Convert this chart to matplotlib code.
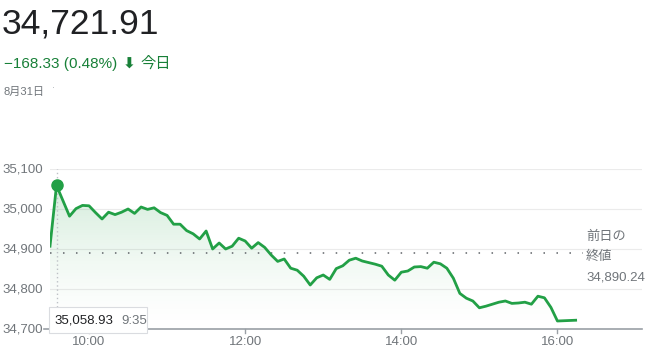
import numpy as np
import matplotlib
matplotlib.use('Agg')
import matplotlib.pyplot as plt

plt.rcParams['font.family'] = ['Liberation Sans', 'Noto Sans CJK JP', 'DejaVu Sans']

# minutos desde las 9:30 y valor del indice
minutos = [0, 5, 15, 20, 25, 30, 35, 40, 45, 50, 55, 60, 65, 70, 75, 80, 85, 90,
           95, 100, 105, 110, 115, 120, 125, 130, 135, 140, 145, 150, 155, 160,
           165, 170, 175, 180, 185, 190, 195, 200, 205, 210, 215, 220, 225, 230,
           235, 240, 245, 250, 255, 260, 265, 270, 275, 280, 285, 290, 295, 300,
           305, 310, 315, 320, 325, 330, 335, 340, 345, 350, 355, 360, 365, 370,
           375, 380, 385, 390, 404]
valores = [34907, 35058.93, 34982, 35001, 35009, 35008, 34991, 34975, 34992,
           34986, 34992, 35000, 34989, 35005, 34999, 35003, 34991, 34984, 34962,
           34962, 34946, 34938, 34925, 34945, 34900, 34915, 34900, 34907, 34927,
           34920, 34902, 34916, 34904, 34885, 34869, 34875, 34852, 34847, 34832,
           34810, 34828, 34835, 34824, 34851, 34858, 34872, 34877, 34870, 34866,
           34862, 34857, 34835, 34822, 34842, 34845, 34855, 34856, 34852, 34867,
           34863, 34852, 34827, 34789, 34777, 34770, 34753, 34757, 34762, 34767,
           34770, 34764, 34765, 34767, 34762, 34782, 34778, 34754, 34720, 34721.91]

cierre_anterior = 34890.24
ticks_y = [34700, 34800, 34900, 35000, 35100]
etiquetas_y = ['34,700', '34,800', '34,900', '35,000', '35,100']
ticks_x = [30, 150, 270, 390]
etiquetas_x = ['10:00', '12:00', '14:00', '16:00']

verde = '#22a046'
verde_texto = '#188038'
gris = '#70757a'

W, H = 650, 355
fig = plt.figure(figsize=(W / 100, H / 100), dpi=100)
ax = fig.add_axes([50 / W, 1 - 329 / H, 592 / W, 160 / H])
ax.set_xlim(0, 455)
ax.set_ylim(34700, 35100)
ax.axis('off')

# lineas de la cuadricula
for v in ticks_y[1:]:
    ax.axhline(v, color='#ebebeb', lw=0.8, zorder=0)
ax.plot([-6 / 1.3, 455], [34700, 34700], color='#9aa0a6', lw=1.2, clip_on=False, zorder=2)

# relleno degradado bajo la linea
poly = ax.fill_between(minutos, valores, 34700, color='none')
grad = np.zeros((100, 1, 4))
grad[:, 0, 0:3] = matplotlib.colors.to_rgb(verde)
grad[:, 0, 3] = np.linspace(0.0, 1.0, 100) ** 1.4 * 0.2
img = ax.imshow(grad, aspect='auto', extent=[0, 455, 34700, 35070], origin='lower', zorder=1)
img.set_clip_path(poly.get_paths()[0], transform=ax.transData)

ax.plot(minutos, valores, color=verde, lw=2, zorder=3, solid_joinstyle='round')
ax.plot(minutos[1], valores[1], 'o', color=verde, ms=8, zorder=4)

# cierre anterior
ax.plot([0, 410], [cierre_anterior] * 2, color='#5f6368', lw=1.1,
        linestyle=(0, (1, 7.5)), zorder=2)
ax.text(412, 34930, '前日の', color=gris, fontsize=9.5, va='center')
ax.text(412, 34880, '終値', color=gris, fontsize=9.5, va='center')
ax.text(412, 34830, '34,890.24', color=gris, fontsize=9.5, va='center')

# linea vertical del tooltip
ax.plot([minutos[1]] * 2, [34755, 35100], color='#bdc1c6', lw=1,
        linestyle=(0, (1, 2)), zorder=2)

# etiquetas de los ejes
for v, t in zip(ticks_y, etiquetas_y):
    ax.text(-6 / 1.3 - 1, v, t, color=gris, fontsize=9.5, ha='right', va='center')
for m, t in zip(ticks_x, etiquetas_x):
    ax.plot([m, m], [34700, 34690], color='#9aa0a6', lw=1, clip_on=False)
    ax.text(m, 34668, t, color=gris, fontsize=9.5, ha='center', va='center')

# tooltip
ax.add_patch(plt.Rectangle((-0.8, 34690), 75.4, 65, fc='white', ec='#dadce0', lw=0.8,
                           zorder=5, clip_on=False))
ax.text(3.5, 34721, '35,058.93', color='#202124', fontsize=9.5, va='center', zorder=6)
ax.text(55, 34721, '9:35', color=gris, fontsize=9.5, va='center', zorder=6)

# encabezado
fig.text(2 / W, 1 - 24 / H, '34,721.91', fontsize=25.5, color='#202124', va='center')
fig.text(4 / W, 1 - 64 / H, '−168.33 (0.48%)', fontsize=11, color=verde_texto, va='center')
fig.text(123 / W, 1 - 64 / H, '⬇', fontsize=11, color=verde_texto, va='center',
         fontweight='bold', family='DejaVu Sans')
fig.text(140 / W, 1 - 64 / H, '今日', fontsize=11, color=verde_texto, va='center')
fig.text(4 / W, 1 - 92 / H, '8月31日', fontsize=8, color=gris, va='center')
fig.text(52 / W, 1 - 89 / H, '·', fontsize=6, color='#9aa0a6', va='center')

fig.savefig('out.png', dpi=100, facecolor='white')
